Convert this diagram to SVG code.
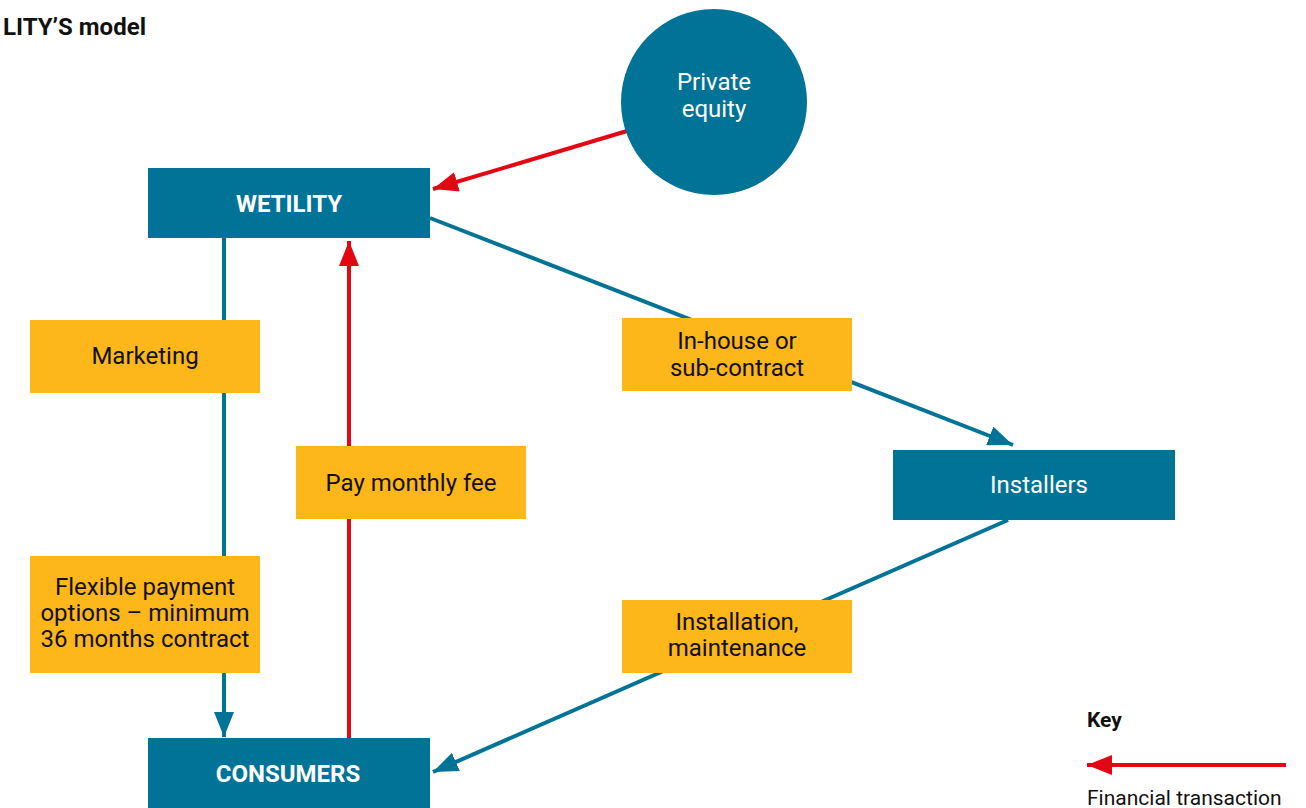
<svg xmlns="http://www.w3.org/2000/svg" width="1306" height="808" viewBox="0 0 1306 808">
<style>
.node{fill:#017396}
.lbl{fill:#FDB71B}
.t{font-family:Roboto,"Liberation Sans",sans-serif;font-size:24px;text-anchor:middle}
.w{fill:#fff}
.b{font-weight:bold}
.k{fill:#111}
.blue{stroke:#017396;stroke-width:4;fill:none}
.red{stroke:#E30613;stroke-width:4;fill:none}
</style>
<defs>
<marker id="ab" markerWidth="26" markerHeight="20" refX="25" refY="10" orient="auto" markerUnits="userSpaceOnUse"><path d="M0,0 L25,10 L0,20 z" fill="#017396"/></marker>
<marker id="ar" markerWidth="26" markerHeight="20" refX="25" refY="10" orient="auto" markerUnits="userSpaceOnUse"><path d="M0,0 L25,10 L0,20 z" fill="#E30613"/></marker>
</defs>
<text x="3" y="35" class="t b k" style="text-anchor:start;font-size:24px">LITY’S model</text>
<g id="connectors">
<line x1="224" y1="238" x2="224" y2="737" class="blue" marker-end="url(#ab)"/>
<line x1="349" y1="738" x2="349" y2="241" class="red" marker-end="url(#ar)"/>
<line x1="627" y1="131" x2="433" y2="189" class="red" marker-end="url(#ar)"/>
<line x1="430" y1="218" x2="1013" y2="445" class="blue" marker-end="url(#ab)"/>
<line x1="1008" y1="520" x2="433" y2="772" class="blue" marker-end="url(#ab)"/>
</g>
<g id="wetility"><rect x="148" y="168" width="282" height="70" class="node"/><text x="289" y="212" class="t w b">WETILITY</text></g>
<g id="consumers"><rect x="148" y="738" width="282" height="70" class="node"/><text x="288" y="782" class="t w b">CONSUMERS</text></g>
<g id="installers"><rect x="893" y="450" width="282" height="70" class="node"/><text x="1039" y="493" class="t w">Installers</text></g>
<g id="private-equity"><circle cx="714" cy="102" r="93" class="node"/><text x="714" y="90" class="t w">Private</text><text x="714" y="117" class="t w">equity</text></g>
<g id="marketing"><rect x="30" y="320" width="230" height="73" class="lbl"/><text x="145" y="364" class="t k">Marketing</text></g>
<g id="flexible"><rect x="30" y="556" width="230" height="117" class="lbl"/><text x="145" y="595" class="t k">Flexible payment</text><text x="145" y="621" class="t k">options – minimum</text><text x="145" y="647" class="t k">36 months contract</text></g>
<g id="pay"><rect x="296" y="446" width="230" height="73" class="lbl"/><text x="411" y="491" class="t k">Pay monthly fee</text></g>
<g id="inhouse"><rect x="622" y="318" width="230" height="73" class="lbl"/><text x="737" y="349" class="t k">In-house or</text><text x="737" y="376" class="t k">sub-contract</text></g>
<g id="installation"><rect x="622" y="600" width="230" height="73" class="lbl"/><text x="737" y="630" class="t k">Installation,</text><text x="737" y="656" class="t k">maintenance</text></g>
<g id="key">
<text x="1087" y="727" class="t b k" style="text-anchor:start;font-size:21px">Key</text>
<line x1="1286" y1="765" x2="1087" y2="765" class="red" marker-end="url(#ar)"/>
<text x="1087" y="805" class="t k" style="text-anchor:start;font-size:21px">Financial transaction</text>
</g>
</svg>
